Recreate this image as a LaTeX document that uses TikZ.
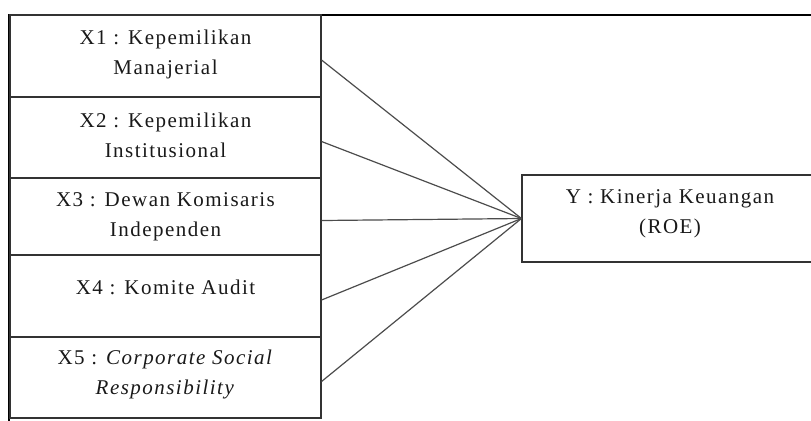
\documentclass[tikz,border=0pt]{standalone}
\usepackage{fontspec}
\setmainfont{Liberation Serif}
\newfontfamily\boxfont{Liberation Serif}[LetterSpace=7]

\tikzset{
  varbox/.style={draw=black!80, line width=0.55pt, minimum width=155.5pt, inner sep=0pt},
  vartext/.style={align=center, inner sep=0pt, text=black!90, font=\boxfont\fontsize{10.5}{15}\selectfont},
  link/.style={draw=black!70, line width=0.6pt},
}

\begin{document}
\begin{tikzpicture}[x=0.5pt, y=-0.5pt]
    \useasboundingbox (0,0) rectangle (811,420);
    \clip (0,0) rectangle (811,420);
    \draw[line width=1pt] (9,15) rectangle (840,450);

    \foreach \i/\ya/\yb/\gap/\txt in {1/15/97/15/{X1 : Kepemilikan\\Manajerial},
        2/97/178/16/{X2 : Kepemilikan\\Institusional},
        3/178/255/15/{X3 : Dewan Komisaris\\Independen},
        4/255/337/25/{X4 : Komite Audit},
        5/337/418/13/{X5 : \textit{Corporate Social}\\\textit{Responsibility}}}{
        \node[varbox, minimum height={(\yb-\ya)*0.5pt}] (x\i) at (165.5,{(\ya+\yb)/2}) {};
        \node[vartext, anchor=north] (t\i) at ([yshift=-\gap*0.5pt]x\i.north) {\txt};
    }

    \node[varbox, minimum width=148pt, minimum height=43.5pt] (y) at (670,218.5) {};
    \node[vartext, anchor=north] (ty) at ([yshift=-7.5pt]y.north) {Y : Kinerja Keuangan\\(ROE)};

    \foreach \i in {1,...,5}
        \draw[link] ([yshift=-2pt]x\i.east) -- (y.west);
\end{tikzpicture}
\end{document}
